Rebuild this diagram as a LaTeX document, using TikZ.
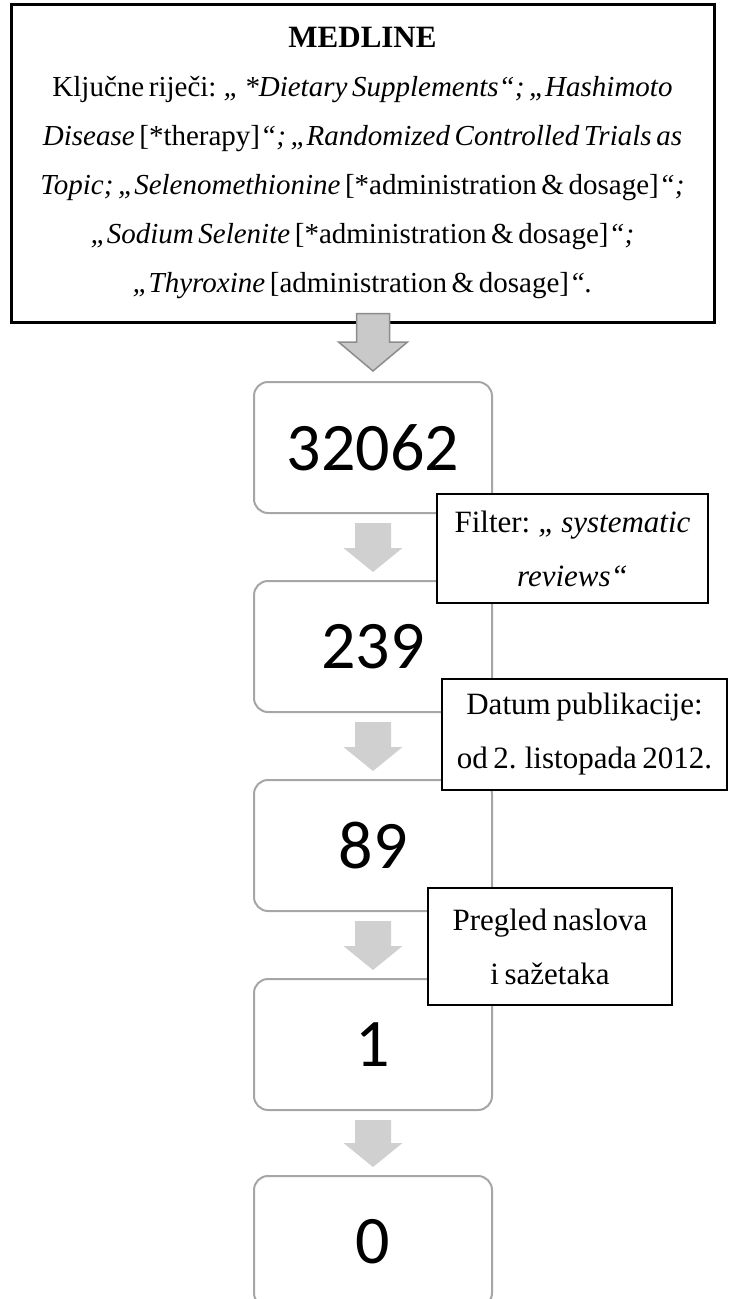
\documentclass[tikz,border=0pt]{standalone}
\usepackage{fontspec}
\setmainfont{Liberation Serif}
\newfontfamily\numfont{Carlito}
\usetikzlibrary{calc,positioning}
\definecolor{boxgrey}{HTML}{A6A6A6}
\definecolor{arrowgrey}{HTML}{D0D0D0}
\definecolor{bigfill}{HTML}{C9C9C9}
\definecolor{bigline}{HTML}{8C8C8C}
\newcommand{\searchfont}{\fontsize{29}{49}\selectfont\spaceskip=0.16em plus 0.04em\relax}
\newcommand{\notefont}{\fontsize{31}{54}\selectfont\spaceskip=0.18em plus 0.04em\relax}
% block arrow: style, start, tip, half shaft, half head, head length
\newcommand{\blockarrow}[6][]{%
  \draw[#1] let \p1=(#2), \p2=(#3) in
    (\x2-#4pt,\y1) -- (\x2+#4pt,\y1) -- (\x2+#4pt,\y2+#6pt) -- (\x2+#5pt,\y2+#6pt)
    -- (\x2,\y2) -- (\x2-#5pt,\y2+#6pt) -- (\x2-#4pt,\y2+#6pt) -- cycle;}

\begin{document}
\begin{tikzpicture}[x=1pt,y=1pt,
    searchbox/.style={draw=black, line width=3pt, fill=white, align=center,
      minimum width=703pt, minimum height=318pt, font=\searchfont},
    numbox/.style={draw=boxgrey, line width=2pt, fill=white, rounded corners=14pt,
      minimum width=238pt, minimum height=131pt, font=\numfont\fontsize{68}{70}\selectfont},
    notebox/.style={draw=black, line width=2.5pt, fill=white, align=center, font=\notefont},
    bigarrow/.style={fill=bigfill, draw=bigline, line width=1.5pt},
    smallarrow/.style={fill=arrowgrey, draw=none}]
  \useasboundingbox (0,0) rectangle (729,-1299);

  %%%%% search %%%%%
  \node[searchbox] (medline) at (362.5,-163) {\textbf{\fontsize{31}{49}\selectfont MEDLINE}\\
    Ključne riječi: \textit{„ *Dietary Supplements“; „Hashimoto}\\
    \textit{Disease} [*therapy]\textit{“; „Randomized Controlled Trials as}\\
    \textit{Topic; „Selenomethionine} [*administration \& dosage]\textit{“;}\\
    \textit{„Sodium Selenite} [*administration \& dosage]\textit{“;}\\
    \textit{„Thyroxine} [administration \& dosage]\textit{“.}};

  %%%%% counts %%%%%
  \node[numbox] (b1) at (373,-447.5) {32062};
  \node[numbox, below=66pt of b1] (b2) {239};
  \node[numbox, below=66pt of b2] (b3) {89};
  \node[numbox, below=66pt of b3] (b4) {1};
  \node[numbox, below=64pt of b4] (b5) {0};

  \blockarrow[bigarrow]{$(medline.south)+(0,10)$}{$(b1.north)+(0,10)$}{16.5}{34.5}{29}
  \foreach \a/\b in {b1/b2,b2/b3,b3/b4,b4/b5}
    \blockarrow[smallarrow]{$(\a.south)+(0,-9)$}{$(\b.north)+(0,8)$}{18}{29.5}{24};

  %%%%% filters %%%%%
  \node[notebox, minimum width=271pt, minimum height=109pt] (filter) at (572.5,-548.5)
    {Filter: \textit{„ systematic}\\ \textit{reviews“}};
  \node[notebox, minimum width=285pt, minimum height=111pt] (datum) at (584.5,-734.5)
    {Datum publikacije:\\ od 2. listopada 2012.};
  \node[notebox, minimum width=244pt, minimum height=117pt] (pregled) at (550,-946.5)
    {Pregled naslova\\ i sažetaka};
\end{tikzpicture}
\end{document}
